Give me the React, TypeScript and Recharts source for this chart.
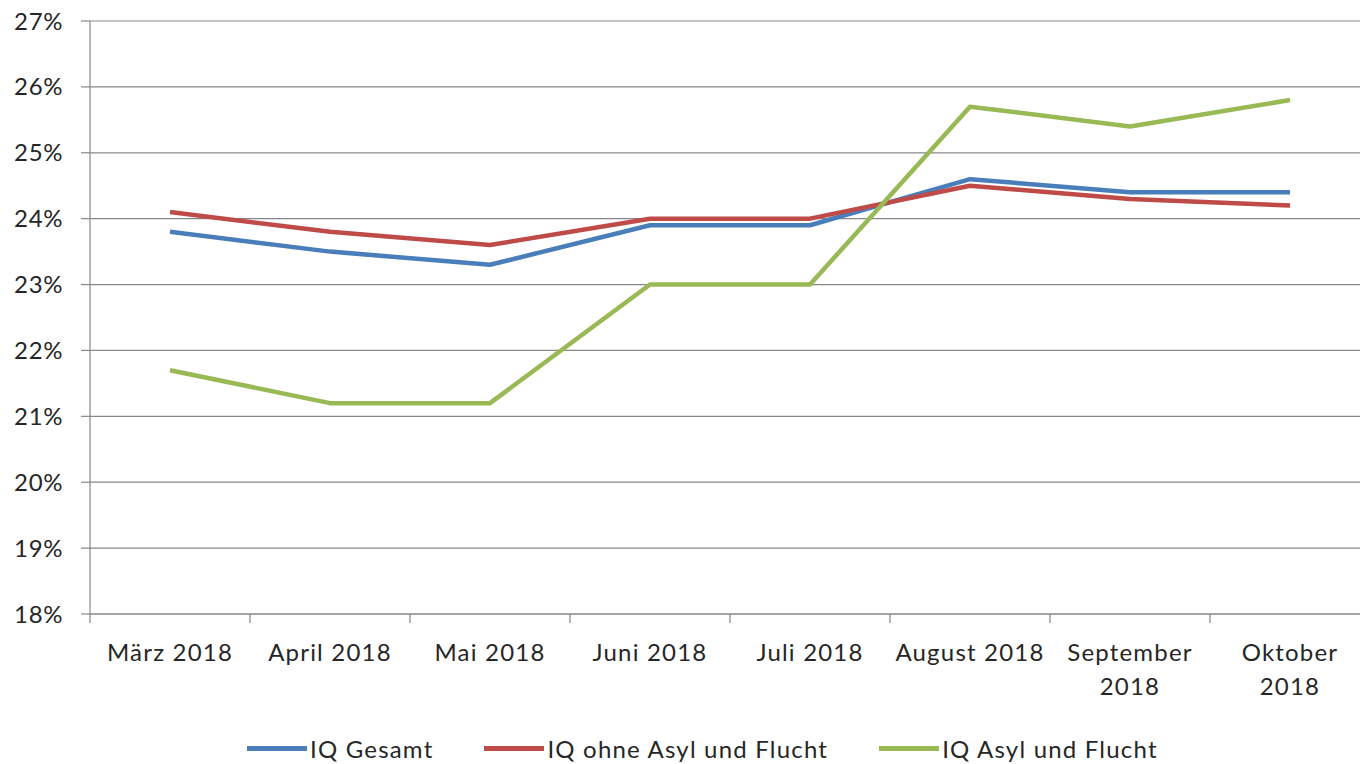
import React from "react";
import { LineChart, Line, XAxis, YAxis, CartesianGrid, Legend } from "recharts";

const months = [
	"März 2018",
	"April 2018",
	"Mai 2018",
	"Juni 2018",
	"Juli 2018",
	"August 2018",
	"September\n2018",
	"Oktober\n2018",
];

const gesamt = [23.8, 23.5, 23.3, 23.9, 23.9, 24.6, 24.4, 24.4];
const ohneAsyl = [24.1, 23.8, 23.6, 24.0, 24.0, 24.5, 24.3, 24.2];
const asyl = [21.7, 21.2, 21.2, 23.0, 23.0, 25.7, 25.4, 25.8];

const yTicks = [18, 19, 20, 21, 22, 23, 24, 25, 26, 27];
const boundTicks = [0, 1, 2, 3, 4, 5, 6, 7, 8];

const series = [
	{ key: "gesamt", name: "IQ Gesamt", color: "#4A7EBB" },
	{ key: "ohneAsyl", name: "IQ ohne Asyl und Flucht", color: "#BE4B48" },
	{ key: "asyl", name: "IQ Asyl und Flucht", color: "#98B954" },
];

// slot = category index centred in its band, used only for the boundary tick axis
const data = months.map((m, i) => ({
	month: m,
	slot: i + 0.5,
	gesamt: gesamt[i],
	ohneAsyl: ohneAsyl[i],
	asyl: asyl[i],
}));

const FONT = "Lato, 'Open Sans', sans-serif";
const GRID = "#878787";
const TEXT = "#262626";

function MonthTick(props: any) {
	const { x, y, payload } = props;
	const lines = String(payload.value).split("\n");
	return (
		<text
			x={x}
			y={y}
			textAnchor="middle"
			fill={TEXT}
			fontSize={24}
			fontFamily={FONT}
			letterSpacing={1.2}
		>
			{lines.map((l: string, i: number) => (
				<tspan key={i} x={x} dy={i === 0 ? 44 : 34}>
					{l}
				</tspan>
			))}
		</text>
	);
}

function LegendContent() {
	return (
		<div
			style={{
				display: "flex",
				height: 30,
				alignItems: "center",
				paddingLeft: 247,
				fontFamily: FONT,
				fontSize: 24,
				letterSpacing: 1.2,
				color: TEXT,
			}}
		>
			{series.map((s) => (
				<div key={s.key} style={{ display: "flex", alignItems: "center", marginRight: 51 }}>
					<div style={{ width: 60, height: 5, background: s.color, marginRight: 3 }} />
					<span>{s.name}</span>
				</div>
			))}
		</div>
	);
}

export default function App() {
	return (
		<div
			style={{
				position: "absolute",
				left: 0,
				top: 0,
				width: 1360,
				height: 764,
				overflow: "hidden",
				background: "#fff",
			}}
		>
			<LineChart
				width={1370}
				height={764}
				data={data}
				margin={{ top: 21, right: 0, bottom: 0, left: 0 }}
			>
				<CartesianGrid vertical={false} xAxisId="bounds" stroke={GRID} strokeWidth={1.2} />
				<XAxis
					xAxisId="bounds"
					dataKey="slot"
					type="number"
					domain={[0, 8]}
					ticks={boundTicks}
					allowDataOverflow
					tick={() => <g />}
					axisLine={{ stroke: GRID, strokeWidth: 1.2 }}
					tickLine={{ stroke: GRID, strokeWidth: 1.2 }}
					tickSize={9}
					height={1}
				/>
				<XAxis
					xAxisId="cat"
					dataKey="month"
					interval={0}
					padding={{ left: 80, right: 80 }}
					axisLine={false}
					tickLine={false}
					tickSize={0}
					tick={<MonthTick />}
					height={119}
				/>
				<YAxis
					domain={[18, 27]}
					ticks={yTicks}
					width={90}
					tickFormatter={(v: number) => `${v}%`}
					axisLine={{ stroke: GRID, strokeWidth: 1.2 }}
					tickLine={{ stroke: GRID, strokeWidth: 1.2 }}
					tickSize={9}
					tickMargin={18}
					tick={{ fill: TEXT, fontSize: 24, fontFamily: FONT, letterSpacing: 0.6 }}
				/>
				<Legend verticalAlign="bottom" height={30} wrapperStyle={{ bottom: 1 }} content={<LegendContent />} />
				<Line
					xAxisId="bounds"
					dataKey="gesamt"
					stroke="none"
					dot={false}
					activeDot={false}
					legendType="none"
					isAnimationActive={false}
				/>
				{series.map((s) => (
					<Line
						key={s.key}
						xAxisId="cat"
						dataKey={s.key}
						name={s.name}
						stroke={s.color}
						strokeWidth={4.5}
						dot={false}
						isAnimationActive={false}
						strokeLinejoin="round"
					/>
				))}
			</LineChart>
		</div>
	);
}
